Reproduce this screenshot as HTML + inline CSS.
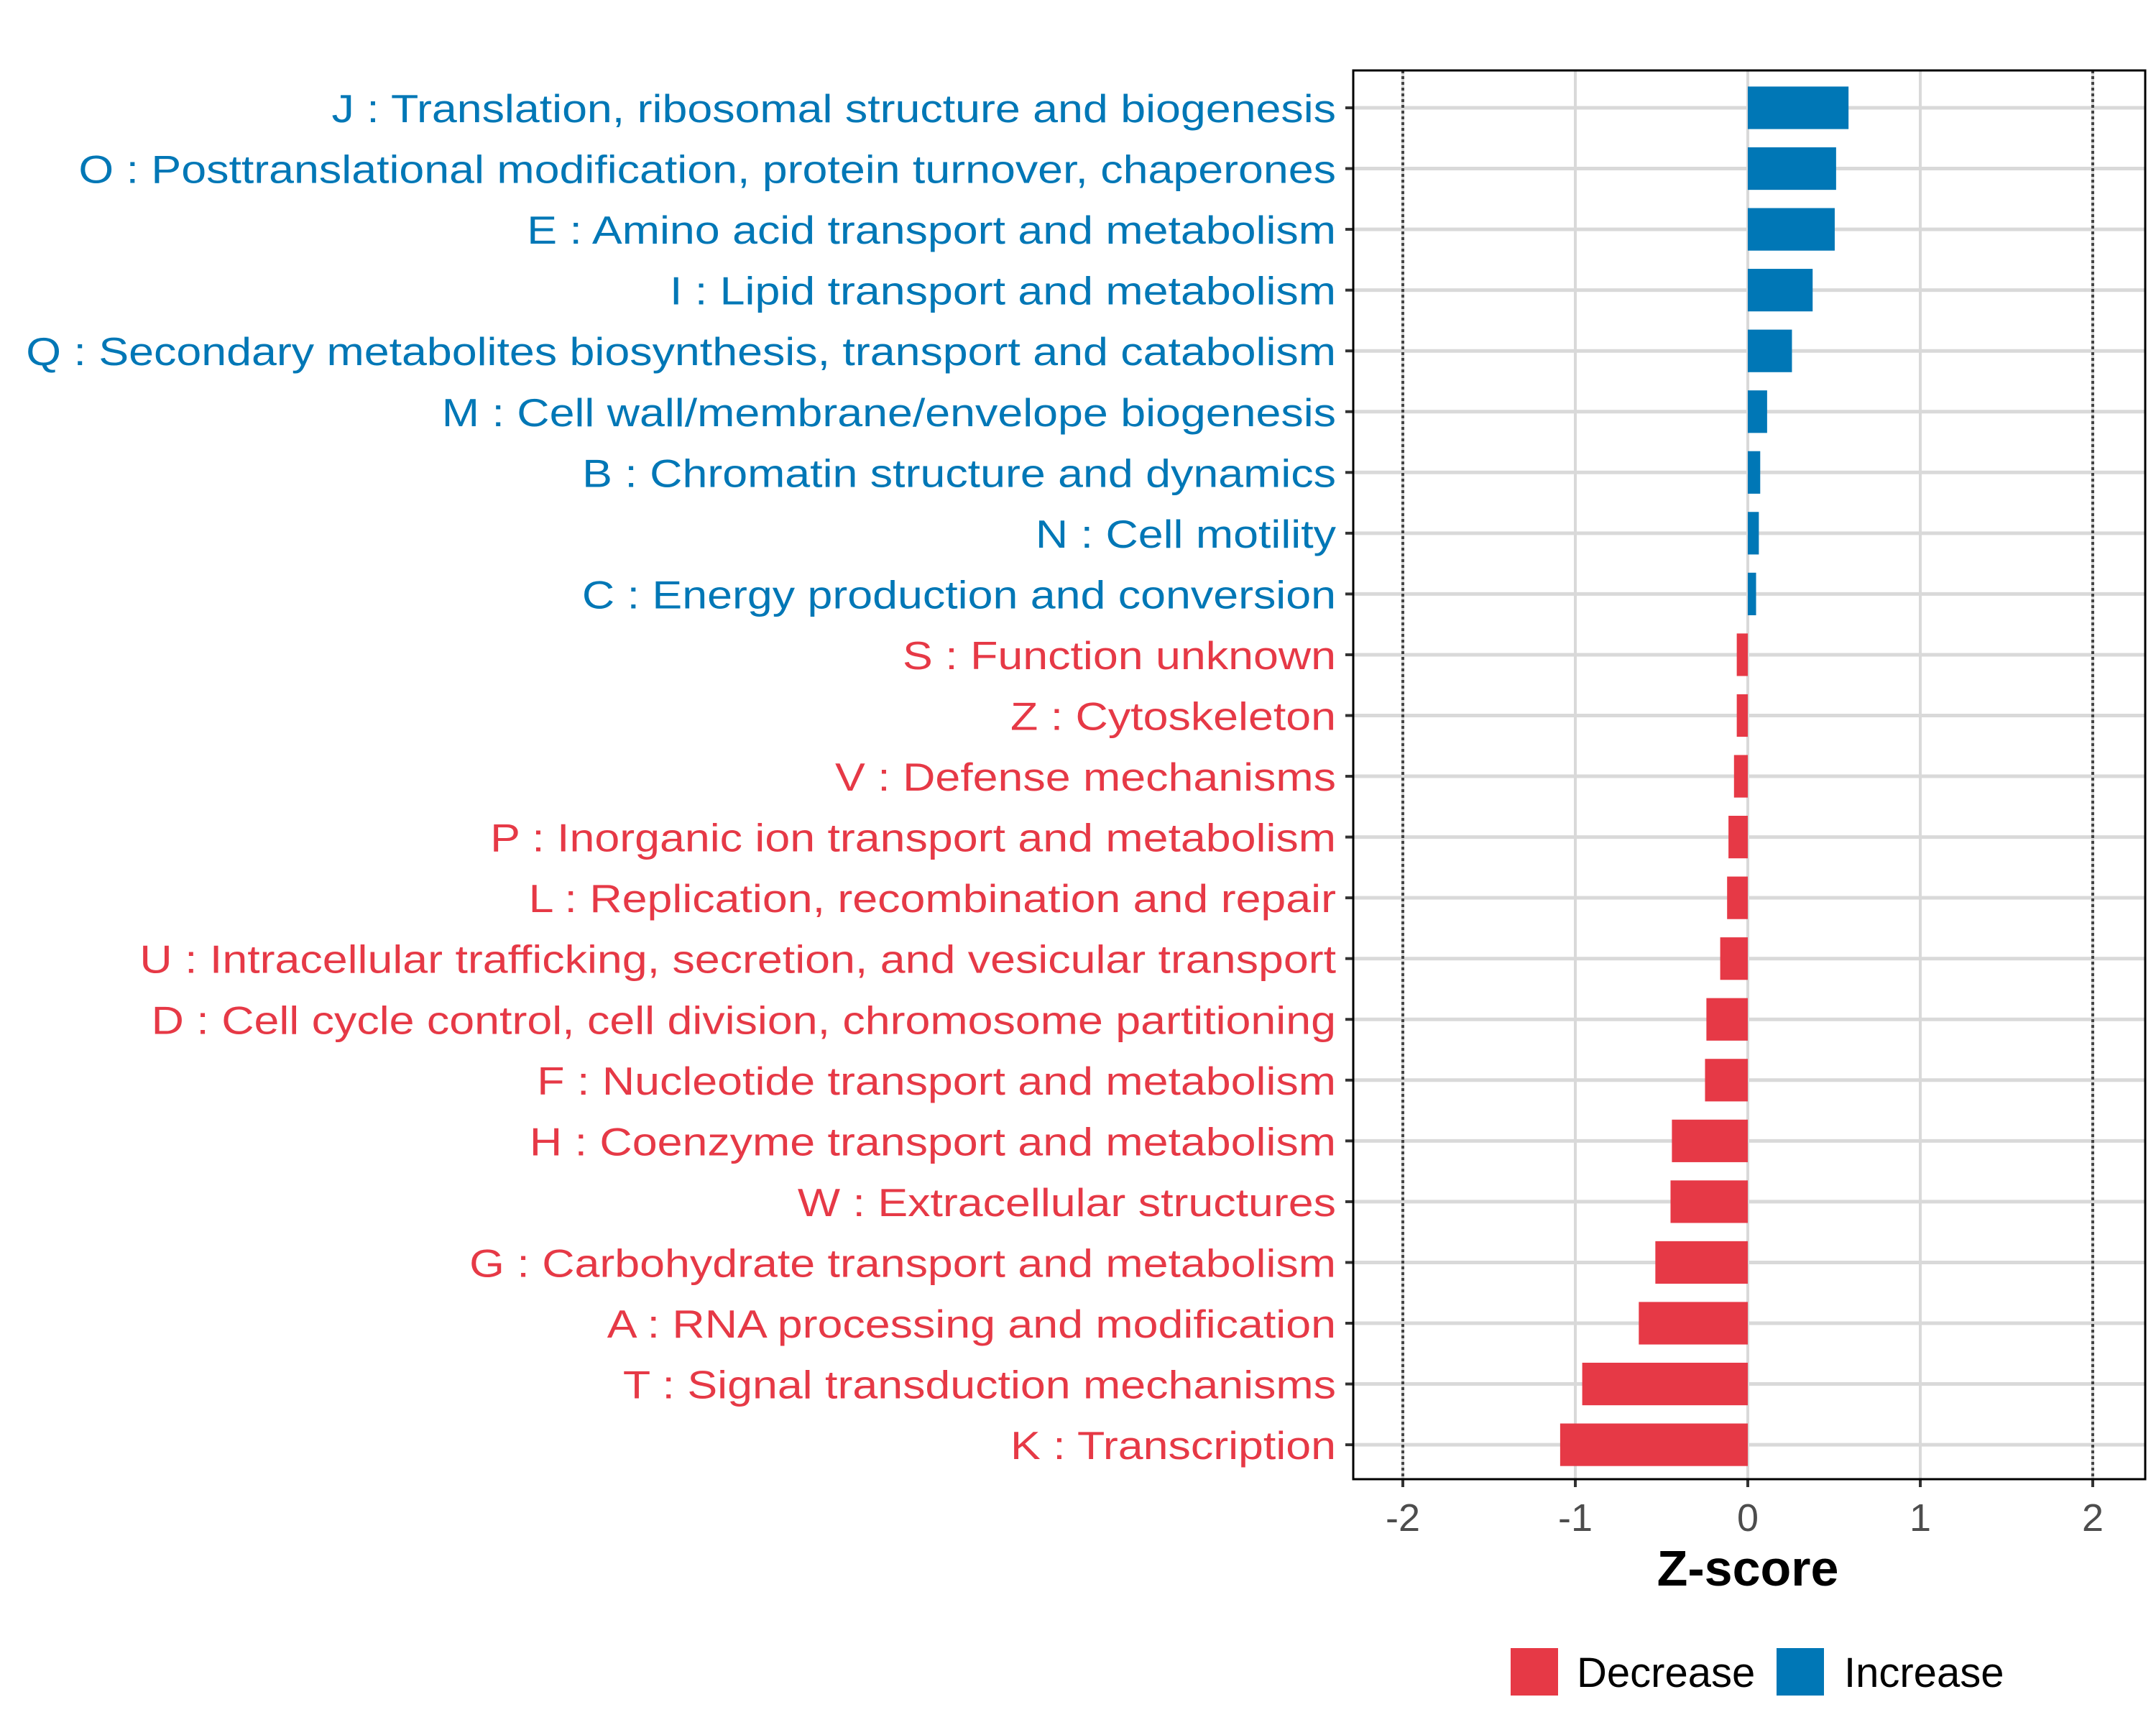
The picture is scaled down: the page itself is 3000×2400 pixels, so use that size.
<!DOCTYPE html>
<html><head><meta charset="utf-8"><style>
body{margin:0;background:#fff}
svg{display:block;font-family:"Liberation Sans",sans-serif}
</style></head><body>
<svg id="chart" width="3000" height="2400" viewBox="0 0 3000 2400" xmlns="http://www.w3.org/2000/svg">
<rect width="3000" height="2400" fill="#fff"/>
<g id="grid"></g>
<g id="bars"></g>
<g id="ylabels"></g>
<g id="xaxis"></g>
<rect x="1883" y="98" width="1102" height="1960" fill="none" stroke="#000" stroke-width="3"/>
<text x="2432" y="2206" text-anchor="middle" font-size="70" font-weight="bold" fill="#000">Z-score</text>
<g>
<rect x="2102" y="2293" width="66" height="66" fill="#E63946"/>
<text x="2194" y="2347" font-size="58" fill="#000">Decrease</text>
<rect x="2472" y="2293" width="66" height="66" fill="#0077B6"/>
<text x="2566" y="2347" font-size="58" fill="#000">Increase</text>
</g>
</svg>
<script>
const categories = ["J : Translation, ribosomal structure and biogenesis","O : Posttranslational modification, protein turnover, chaperones","E : Amino acid transport and metabolism","I : Lipid transport and metabolism","Q : Secondary metabolites biosynthesis, transport and catabolism","M : Cell wall/membrane/envelope biogenesis","B : Chromatin structure and dynamics","N : Cell motility","C : Energy production and conversion","S : Function unknown","Z : Cytoskeleton","V : Defense mechanisms","P : Inorganic ion transport and metabolism","L : Replication, recombination and repair","U : Intracellular trafficking, secretion, and vesicular transport","D : Cell cycle control, cell division, chromosome partitioning","F : Nucleotide transport and metabolism","H : Coenzyme transport and metabolism","W : Extracellular structures","G : Carbohydrate transport and metabolism","A : RNA processing and modification","T : Signal transduction mechanisms","K : Transcription"];
const zscores = [0.584,0.512,0.504,0.376,0.256,0.112,0.072,0.064,0.048,-0.064,-0.064,-0.08,-0.112,-0.12,-0.16,-0.24,-0.248,-0.44,-0.448,-0.536,-0.632,-0.96,-1.088];
const xTicks = [-2,-1,0,1,2];
const xTickLabels = ["-2","-1","0","1","2"];
const NS="http://www.w3.org/2000/svg";
const L=1883,R=2985,T=98,B=2058;
function x(v){return 2432+v*240;}
const pitch=84.55;
function y(i){return 150+i*pitch;}
function mk(tag,attrs,parent){const e=document.createElementNS(NS,tag);for(const k in attrs)e.setAttribute(k,attrs[k]);parent.appendChild(e);return e;}
const grid=document.getElementById('grid'),bars=document.getElementById('bars'),yl=document.getElementById('ylabels'),xa=document.getElementById('xaxis');
xTicks.forEach((t,i)=>{
  const g=mk('line',{x1:x(t),x2:x(t),y1:T,y2:B,stroke:'#d9d9d9','stroke-width':4},grid);
  
  
  const tk=mk('line',{x1:x(t),x2:x(t),y1:B,y2:B+11,stroke:'#333','stroke-width':4},xa);
  
  
  const tl=mk('text',{x:x(t),y:B+72,'text-anchor':'middle','font-size':54,fill:'#4d4d4d'},xa);
  tl.textContent=xTickLabels[i];
  
  
});
categories.forEach((c,i)=>{
  const g=mk('line',{x1:L,x2:R,y1:y(i),y2:y(i),stroke:'#d9d9d9','stroke-width':5},grid);
  
  
});
[-2,2].forEach(t=>{
  const d=mk('line',{x1:x(t),x2:x(t),y1:T,y2:B,stroke:'#444','stroke-width':4,'stroke-dasharray':'4 4'},grid);
  
  
});
categories.forEach((c,i)=>{
  const v=zscores[i];
  const col=v>=0?'#0077B6':'#E63946';
  const h=pitch*0.7;
  const r=mk('rect',{x:Math.min(x(0),x(v)),y:y(i)-h/2,width:Math.abs(x(v)-x(0)),height:h,fill:col},bars);
  
  
  const tk=mk('line',{x1:L-11,x2:L,y1:y(i),y2:y(i),stroke:'#333','stroke-width':4},yl);
  
  
  const t=mk('text',{x:L-24,y:y(i)+20,'text-anchor':'end','font-size':55,fill:col},yl);
  t.textContent=c;
  
  
  const w=t.getComputedTextLength();
  t.setAttribute('textLength',(w*1.14).toFixed(1));
  t.setAttribute('lengthAdjust','spacingAndGlyphs');
});
</script>
</body></html>
